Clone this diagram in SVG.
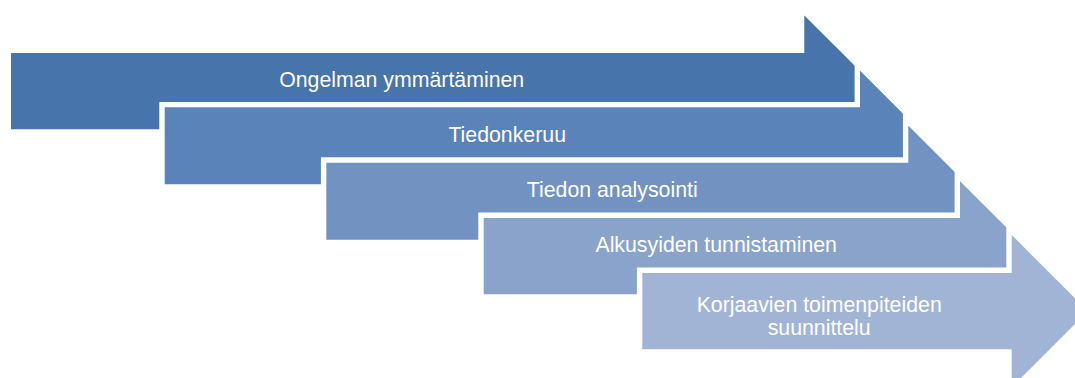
<svg xmlns="http://www.w3.org/2000/svg" width="1075" height="378" viewBox="0 0 1075 378">
  <style>
    .step { stroke: #ffffff; stroke-width: 5.4; stroke-linejoin: miter; }
    .label { font-family: "Liberation Sans", Arial, sans-serif; font-size: 21.3px; fill: #ffffff; text-anchor: middle; }
  </style>
  <rect x="0" y="0" width="1075" height="378" fill="#ffffff"/>

  <!-- Stepped process arrows, each drawn over the previous one -->
  <g id="step1">
    <polygon class="step" fill="#4774AA" points="8.3,50.3 801.6,50.3 801.6,8.8 884,91.15 801.6,173.5 801.6,132 8.3,132"/>
    <text class="label" x="401.7" y="87.3">Ongelman ymmärtäminen</text>
  </g>

  <g id="step2">
    <polygon class="step" fill="#5A83B9" points="162,104.6 857.3,104.6 857.3,64.2 938.9,145.8 857.3,227.4 857.3,187 162,187"/>
    <text class="label" x="507.2" y="142.3">Tiedonkeruu</text>
  </g>

  <g id="step3">
    <polygon class="step" fill="#7293C1" points="323.6,160 905.6,160 905.6,119.2 987.6,201.2 905.6,283.2 905.6,242.4 323.6,242.4"/>
    <text class="label" x="612.2" y="196.7">Tiedon analysointi</text>
  </g>

  <g id="step4">
    <polygon class="step" fill="#89A3CA" points="481,215.3 957.3,215.3 957.3,174.5 1038.95,256.15 957.3,337.8 957.3,297 481,297"/>
    <text class="label" x="716.2" y="251.7">Alkusyiden tunnistaminen</text>
  </g>

  <g id="step5">
    <polygon class="step" fill="#A2B4D5" points="639.6,270.3 1009,270.3 1009,228.5 1091.65,311.15 1009,393.8 1009,352 639.6,352"/>
    <text class="label" x="819.2" y="312.3">Korjaavien toimenpiteiden</text>
    <text class="label" x="819.2" y="335">suunnittelu</text>
  </g>
</svg>
